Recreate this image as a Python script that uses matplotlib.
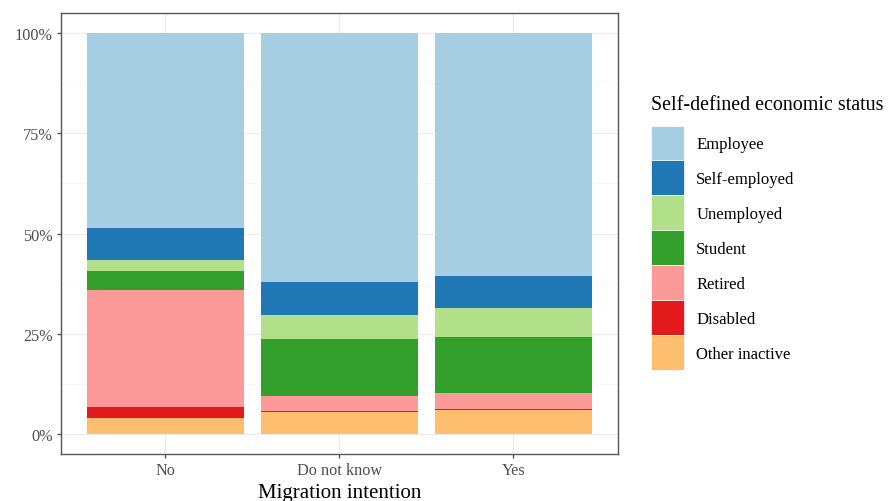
import numpy as np
import matplotlib.pyplot as plt
from matplotlib.patches import Patch
from matplotlib.ticker import FuncFormatter

plt.rcParams['font.family'] = ['Liberation Serif', 'DejaVu Serif']

# ---------- data (shares in %) ----------
groups = ["No", "Do not know", "Yes"]
statuses = ["Employee", "Self-employed", "Unemployed", "Student",
            "Retired", "Disabled", "Other inactive"]
colors = ["#A6CEE3", "#1F78B4", "#B2DF8A", "#33A02C",
          "#FB9A99", "#E31A1C", "#FDBF6F"]

employee = [48.7, 62.2, 60.5]
self_employed = [7.8, 8.3, 8.1]
unemployed = [2.8, 5.8, 7.1]
student = [4.7, 14.2, 14.2]
retired = [29.2, 3.8, 3.9]
disabled = [2.9, 0.4, 0.3]
other_inactive = [3.9, 5.4, 5.9]

series = [employee, self_employed, unemployed, student,
          retired, disabled, other_inactive]

# ---------- plot ----------
fig = plt.figure(figsize=(8.88, 5.02), dpi=100)
ax = fig.add_axes([0.0687, 0.0936, 0.6269, 0.8784])

x = np.arange(1, len(groups) + 1)
vals = np.array(series, dtype=float)
vals = vals / vals.sum(axis=0)  # position = "fill"

# ggplot stacks the first level on top
bottom = np.zeros(len(groups))
for i in range(len(statuses) - 1, -1, -1):
    ax.bar(x, vals[i], width=0.9, bottom=bottom, color=colors[i],
           edgecolor="none", zorder=2)
    bottom += vals[i]

ax.set_xlim(0.4, 3.6)
ax.set_ylim(-0.05, 1.05)
ax.set_xticks(x)
ax.set_xticklabels(groups)
ax.set_yticks([0, 0.25, 0.5, 0.75, 1.0])
ax.set_yticks([0.125, 0.375, 0.625, 0.875], minor=True)
ax.yaxis.set_major_formatter(FuncFormatter(lambda v, p: f"{v * 100:.0f}%"))

ax.grid(True, which="major", color="#EBEBEB", lw=0.9, zorder=0)
ax.grid(True, which="minor", axis="y", color="#F5F5F5", lw=0.6, zorder=0)
ax.set_axisbelow(True)
for s in ax.spines.values():
    s.set_color("#555555")
    s.set_linewidth(1.0)
ax.tick_params(which="major", length=3, color="#555555", width=1.0,
               labelsize=11.7, labelcolor="#4D4D4D", pad=3)
ax.tick_params(which="minor", length=0)

ax.set_xlabel("Migration intention", fontsize=15, color="black", labelpad=3)

# legend: title drawn separately so the key column can sit lower
fig.text(0.7335, 1 - 105 / 502, "Self-defined economic status",
         fontsize=14.4, ha="left", va="center")
handles = [Patch(facecolor=c, edgecolor="white", lw=0.5) for c in colors]
fig.legend(handles, statuses, loc="upper left",
           bbox_to_anchor=(0.7335, 1 - 126.5 / 502), frameon=False,
           fontsize=12, handlelength=1.98, handleheight=2.85,
           labelspacing=0.0, handletextpad=0.72, borderpad=0,
           borderaxespad=0)

fig.savefig("out.png", dpi=100)
